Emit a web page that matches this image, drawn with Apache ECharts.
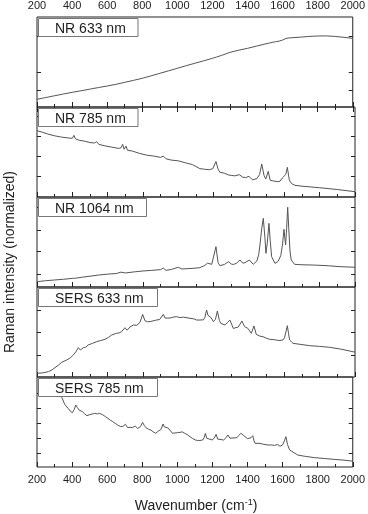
<!DOCTYPE html>
<html>
<head>
<meta charset="utf-8">
<script src="https://cdn.jsdelivr.net/npm/echarts@6/dist/echarts.min.js"></script>
<style>
html,body{margin:0;padding:0;background:#fff;}
#c{width:368px;height:514px;}
</style>
</head>
<body>
<div id="c"></div>
<script>
// Panel labels
const panelLabels = ['NR 633 nm', 'NR 785 nm', 'NR 1064 nm', 'SERS 633 nm', 'SERS 785 nm'];
// X axis tick labels (wavenumber, cm-1)
const xTickLabels = [200, 400, 600, 800, 1000, 1200, 1400, 1600, 1800, 2000];

// NR 633 nm
const nr633_x = [200,250,300,350,400,450,500,550,600,650,700,750,800,850,900,950,1000,1050,1100,1150,1200,1225,1250,1300,1350,1400,1450,1500,1520,1530,1540,1560,1580,1600,1610,1620,1640,1700,1750,1800,1850,1900,1950,2000];
const nr633_y = [8.6,10.5,12.5,14.4,16.3,18,19.8,21.6,23.3,25.2,27.4,29.6,31.9,34.6,37.4,40.2,43,45.9,48.6,51.3,54.1,55.6,57.2,60.7,63.1,65.2,67.6,70,70.8,70.1,71.8,72.5,73.2,74.4,74.1,76.3,76.8,77.6,78.4,78.9,79,78.4,77.4,76.3];

// NR 785 nm
const nr785_x = [200,230,260,300,340,380,400,409,418,440,470,500,525,538,550,580,620,660,675,685,693,704,712,740,780,820,860,900,915,930,960,1000,1010,1040,1080,1122,1150,1160,1175,1195,1213,1225,1235,1260,1285,1300,1320,1345,1365,1380,1400,1420,1445,1460,1472,1485,1495,1509,1520,1540,1560,1575,1590,1600,1608,1617,1628,1640,1660,1700,1800,1900,2000];
const nr785_y = [73.7,72,70,68,66.5,65.5,65.2,68.5,64.5,63,62,60.5,60,61.5,58.5,57,55.5,54,54.5,58.5,53,56.5,52,51,48.5,46.5,45.5,44,45.5,42.5,41,40.2,40.5,38,36,31.5,30.8,32.5,30.3,31.5,39.5,31,27.5,26.5,24.4,24,23.5,24.8,22,21.5,23,19,20.5,25,36.7,24,20,28.5,18.5,17.8,17,17.5,21.5,20,25,33,19,15,13,12,10.3,8.3,5.9];

// NR 1064 nm
const nr1064_x = [200,250,300,350,400,409,418,450,500,550,600,650,675,685,700,750,800,850,900,915,930,960,1000,1020,1060,1100,1122,1150,1165,1189,1200,1213,1225,1235,1260,1284,1300,1312,1330,1349,1365,1377,1402,1424,1445,1455,1462,1472,1481,1490,1496,1504,1513,1520,1528,1547,1565,1580,1590,1598,1607,1613,1619,1625,1632,1639,1658,1700,1763,1850,1915,2000];
const nr1064_y = [5.9,7,7.8,8.6,9.6,11.5,9.8,10.7,12,13.3,14.3,15,16.5,15.3,15.6,16.8,17.8,18.5,19.3,21,18.5,19.5,21.9,20,20.5,21,21.5,24,26.5,25.2,26,44.8,27,23.7,25,28.1,25.5,25,26.5,30,26.5,27,30,25.2,29,36,46.7,65,76.3,55,37.4,50,70.7,52,33.7,26.3,28.5,35,48,64.1,46.7,65,88.6,65,40,30,25.2,24.7,24.4,23.6,22.6,21.9];

// SERS 633 nm
const sers633_x = [200,230,264,285,302,320,340,368,390,405,420,434,445,462,475,490,515,538,560,585,605,623,650,665,679,689,698,710,726,735,745,755,765,783,798,811,825,840,870,895,915,925,953,970,990,1010,1030,1066,1090,1103,1122,1132,1142,1150,1160,1168,1175,1185,1198,1210,1221,1232,1240,1264,1280,1292,1311,1339,1360,1375,1394,1413,1428,1441,1460,1479,1500,1517,1540,1554,1570,1592,1601,1610,1617,1624,1630,1649,1700,1743,1800,1856,1920,1988,2000];
const sers633_y = [4.1,4.5,5.9,8,10.4,13,16.3,18.9,21.5,24.4,28,32.6,30,32.5,33,35.6,37.5,39.3,40.5,41.9,44,46.7,48.5,49,50.4,49.5,54.8,52,55.5,53.5,57.8,59,57.5,60.7,69.6,62.5,61.5,61.5,63,64,69.6,65.5,65.5,66.5,67,66,66.5,65.2,64.5,63.3,63.3,65.2,63.5,66,74.4,68.5,69.5,66,61.5,64,73.3,63,59.6,57.8,61,63.3,54,55.5,62.2,56,54,48.5,56.7,47.4,45.5,44.8,43,41.9,41.5,41.1,40.5,41.1,43.5,51,57,48,41.1,37.4,36,34.8,34,33,31,28.1,27.7];

// SERS 785 nm
const sers785_x = [200,250,300,330,340,358,377,390,402,412,421,430,440,459,472,485,497,509,528,545,557,575,590,604,618,632,646,660,675,689,704,717,731,745,760,774,790,802,812,821,835,849,863,877,892,906,919,926,934,945,953,962,972,985,1000,1015,1028,1042,1056,1066,1085,1094,1103,1122,1145,1153,1160,1167,1173,1198,1210,1221,1230,1236,1264,1280,1288,1300,1311,1339,1350,1362,1375,1386,1400,1409,1420,1430,1437,1443,1471,1490,1517,1535,1554,1573,1585,1592,1600,1610,1619,1628,1640,1649,1686,1730,1781,1840,1894,1950,2000];
const sers785_y = [100,96,89,83,78,69.6,65.2,62,60.4,64,68.9,66,63.3,61.5,59,57,58,58.5,59.6,59,59.6,58,56,54.1,52,50.4,48.5,46.7,45,45,47.4,43.7,44,43.8,45.5,42.8,45,49.6,46,43.7,42,41,39,37.4,40,41.5,47.8,44.5,43,43.5,44.5,40,37.4,37.8,38.1,38.5,39,37.5,36,34,31.9,30,30,29.3,30,33,37.4,32,30,30,32,36.3,31,28.9,30,33,35.6,32,30,32.5,35,37.4,35.5,34,31.5,30,32.5,34.8,29,26.3,26.3,25.3,24.4,24.5,24,25,23,22.6,24.5,29,33.7,25,19,17,13.3,11.8,10.4,9.4,8.5,7.6,6.5];

// Y tick positions (fraction of panel, 0-100) per panel
const yTicks = [
  [19, 39, 79],
  [22.6, 44.8, 67.8, 90],
  [14.4, 39.2, 63.3, 88.6],
  [24.1, 49.2, 73.7],
  [15.2, 31.9, 48.6, 65.2, 81.9]
];

const seriesX = [nr633_x, nr785_x, nr1064_x, sers633_x, sers785_x];
const seriesY = [nr633_y, nr785_y, nr1064_y, sers633_y, sers785_y];
const boxWidths = [99.5, 99.5, 108, 119, 119];

const FONT = 'Arial, "Liberation Sans", sans-serif';
const TXT = '#222';
const L = 37, W = 318, T0 = 17, H = 90;
const fmt = function (v) { return String(v); };

const grids = [], xAxes = [], yAxes = [], series = [], graphics = [];
for (let i = 0; i < 5; i++) {
  const top = T0 + H * i;
  grids.push({left: L, width: W, top: top, height: H, show: true, borderColor: '#222', borderWidth: 1, backgroundColor: 'transparent'});
  const isLast = i === 4;
  xAxes.push({
    type: 'value', gridIndex: i, position: 'bottom', min: 200, max: 2000, interval: 200,
    axisLine: {show: false},
    axisTick: {show: true, inside: true, length: 5, lineStyle: {color: '#222', width: 1}},
    minorTick: {show: true, splitNumber: 2, length: 3, lineStyle: {color: '#222', width: 1}},
    splitLine: {show: false},
    axisLabel: {show: isLast, margin: 7, color: TXT, fontSize: 11, fontFamily: FONT,
      customValues: xTickLabels, formatter: fmt}
  });
  if (i === 0) {
    xAxes.push({
      type: 'value', gridIndex: 0, position: 'top', min: 200, max: 2000, interval: 200,
      axisLine: {show: false},
      axisTick: {show: true, inside: true, length: 5, lineStyle: {color: '#222', width: 1}},
      minorTick: {show: true, splitNumber: 2, length: 3, lineStyle: {color: '#222', width: 1}},
      splitLine: {show: false},
      axisLabel: {show: true, margin: 6, color: TXT, fontSize: 11, fontFamily: FONT,
        customValues: xTickLabels, formatter: fmt}
    });
  }
  ['left', 'right'].forEach(function (pos) {
    yAxes.push({
      type: 'value', gridIndex: i, position: pos, min: 0, max: 100,
      axisLine: {show: false},
      axisTick: {show: true, inside: true, length: 4, customValues: yTicks[i], lineStyle: {color: '#222', width: 1}},
      axisLabel: {show: false},
      splitLine: {show: false}
    });
  });
  const data = seriesX[i].map(function (x, k) { return [x, seriesY[i][k]]; });
  series.push({
    type: 'line', xAxisIndex: i === 0 ? 0 : i + 1, yAxisIndex: i * 2,
    data: data, symbol: 'none', clip: true, animation: false,
    lineStyle: {color: '#555', width: 1}
  });
  graphics.push({
    type: 'rect', z: 100,
    shape: {x: 38.5, y: top + 1.5, width: boxWidths[i], height: 18},
    style: {fill: '#fff', stroke: '#777', lineWidth: 1}
  });
  graphics.push({
    type: 'text', z: 101, x: 55, y: top + 12,
    style: {text: panelLabels[i], fill: TXT, font: '14px ' + FONT, textAlign: 'left', textVerticalAlign: 'middle'}
  });
}
graphics.push({
  type: 'text', z: 101, x: 196, y: 506,
  style: {
    text: 'Wavenumber (cm{sup|-1})', fill: TXT, font: '14px ' + FONT,
    textAlign: 'center', textVerticalAlign: 'middle',
    rich: {sup: {fontSize: 9, fontFamily: FONT, fill: TXT, verticalAlign: 'top', padding: [0, 0, 6, 0]}}
  }
});
graphics.push({
  type: 'text', z: 101, x: 10, y: 262, rotation: Math.PI / 2,
  style: {text: 'Raman intensity (normalized)', fill: TXT, font: '14px ' + FONT, textAlign: 'center', textVerticalAlign: 'middle'}
});

const chart = echarts.init(document.getElementById('c'), null, {renderer: 'canvas'});
chart.setOption({
  animation: false,
  backgroundColor: '#fff',
  grid: grids,
  xAxis: xAxes,
  yAxis: yAxes,
  series: series,
  graphic: graphics
});
</script>
</body>
</html>
